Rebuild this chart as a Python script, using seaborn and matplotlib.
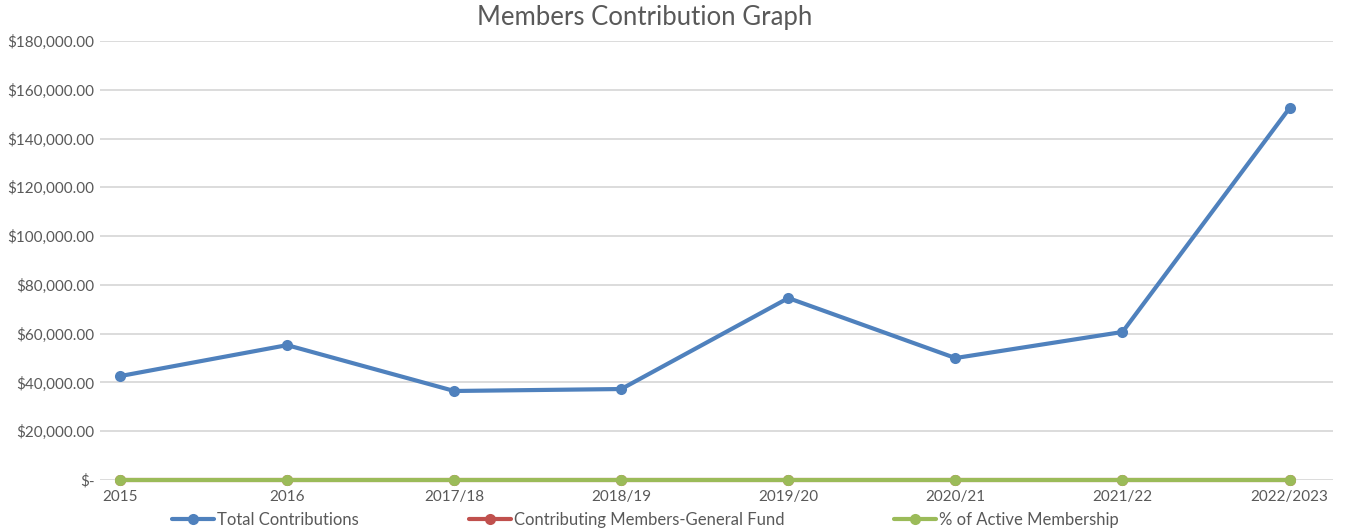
import matplotlib
matplotlib.use("Agg")
import matplotlib.pyplot as plt
import seaborn as sns
import pandas as pd
from matplotlib.ticker import FuncFormatter

years = ["2015", "2016", "2017/18", "2018/19", "2019/20", "2020/21", "2021/22", "2022/2023"]
total_contributions = [42600, 55300, 36500, 37300, 74600, 50000, 60700, 152500]
contributing_members = [0, 0, 0, 0, 0, 0, 0, 0]
pct_active = [0, 0, 0, 0, 0, 0, 0, 0]
series_names = ["Total Contributions", "Contributing Members-General Fund", "% of Active Membership"]
colors = ["#4F81BD", "#C0504D", "#9BBB59"]

rows = []
for name, vals in zip(series_names, [total_contributions, contributing_members, pct_active]):
    for i, (y, v) in enumerate(zip(years, vals)):
        rows.append({"idx": i, "year": y, "value": v, "series": name})
df = pd.DataFrame(rows)

sns.set_theme(style="white")
plt.rcParams["font.family"] = ["Lato", "DejaVu Sans"]
txt = "#595959"

fig = plt.figure(figsize=(13.48, 5.31), dpi=100)
ax = fig.add_axes([100/1348, 1 - 480/531, (1333-100)/1348, (480-41)/531])

sns.lineplot(data=df, x="idx", y="value", hue="series", hue_order=series_names,
             palette=colors, marker="o", markersize=8, markeredgewidth=0,
             linewidth=3, ax=ax, legend=True, sort=False)
for ln in ax.lines:
    ln.set_clip_on(False)

ax.set_ylim(0, 180000)
ax.set_yticks(range(0, 180001, 20000))
ax.yaxis.set_major_formatter(FuncFormatter(lambda v, p: "$-" if v == 0 else f"${v:,.2f}"))
ax.set_xlim(-0.12, 7.26)
ax.set_xticks(range(len(years)))
ax.set_xticklabels(years)
ax.grid(axis="y", color="#D9D9D9", linewidth=1.3)
ax.set_axisbelow(True)
for s in ax.spines.values():
    s.set_visible(False)
ax.tick_params(axis="both", colors=txt, labelsize=11, length=0, pad=7)
ax.tick_params(axis="y", pad=4)
ax.set_xlabel("")
ax.set_ylabel("")

handles, labels = ax.get_legend_handles_labels()
ax.get_legend().remove()
leg = fig.legend(handles, labels, loc="lower center", bbox_to_anchor=(0.479, -0.022), ncol=3,
                 frameon=False, fontsize=12, handlelength=2.5, handletextpad=0.2,
                 columnspacing=6.6)
for t in leg.get_texts():
    t.set_color(txt)

fig.text(0.478, 1 - 18/531, "Members Contribution Graph", ha="center", va="center",
         fontsize=18.5, color=txt)

fig.savefig("out.png", dpi=100)
